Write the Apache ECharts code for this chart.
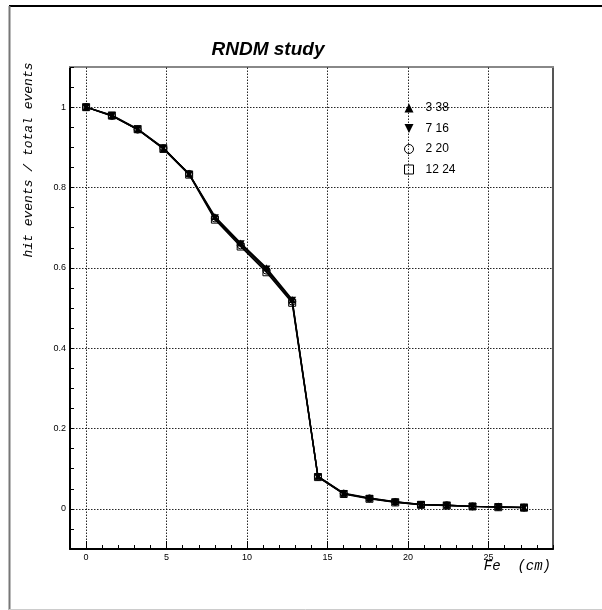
<!DOCTYPE html>
<html>
<head>
<meta charset="utf-8">
<script src="https://cdn.jsdelivr.net/npm/echarts@6/dist/echarts.min.js"></script>
<style>html,body{margin:0;padding:0;background:#fff}#c{width:602px;height:610px}</style>
</head>
<body>
<div id="c"></div>
<script>
var xValues = [0, 1.6, 3.2, 4.8, 6.4, 8.0, 9.6, 11.2, 12.8, 14.4, 16.0, 17.6, 19.2, 20.8, 22.4, 24.0, 25.6, 27.2];
var seriesNames = ['3 38', '7 16', '2 20', '12 24'];
var s338  = [1.000, 0.979, 0.945, 0.897, 0.834, 0.728, 0.662, 0.600, 0.521, 0.081, 0.039, 0.027, 0.018, 0.011, 0.009, 0.006, 0.005, 0.003];
var s716  = [1.000, 0.980, 0.946, 0.899, 0.833, 0.725, 0.660, 0.597, 0.519, 0.080, 0.038, 0.026, 0.017, 0.011, 0.009, 0.006, 0.005, 0.004];
var s220  = [1.000, 0.978, 0.944, 0.898, 0.834, 0.723, 0.656, 0.593, 0.516, 0.080, 0.038, 0.026, 0.017, 0.010, 0.009, 0.006, 0.005, 0.003];
var s1224 = [1.000, 0.979, 0.945, 0.896, 0.832, 0.720, 0.653, 0.589, 0.513, 0.079, 0.037, 0.025, 0.016, 0.010, 0.008, 0.006, 0.004, 0.003];
var xMajorTicks = [0, 5, 10, 15, 20, 25];
var xMinorTicks = [-1,0,1,2,3,4,5,6,7,8,9,10,11,12,13,14,15,16,17,18,19,20,21,22,23,24,25,26,27,28,29];
var yLabelTicks = [0, 0.2, 0.4, 0.6, 0.8, 1.0];
var yMinorTicks = [-0.1,-0.05,0,0.05,0.1,0.15,0.2,0.25,0.3,0.35,0.4,0.45,0.5,0.55,0.6,0.65,0.7,0.75,0.8,0.85,0.9,0.95,1.0,1.05,1.1];

function pairs(ys){ return xValues.map(function(x,i){ return [x, ys[i]]; }); }

var downTri = 'path://M0,0 L10,0 L5,10 Z';
var symbols = ['triangle', downTri, 'circle', 'rect'];
var fills = ['#000', '#000', 'none', 'none'];
var allData = [s338, s716, s220, s1224];

var gridLineData = [];
xMajorTicks.forEach(function(v){ gridLineData.push({xAxis: v}); });
yLabelTicks.forEach(function(v){ gridLineData.push({yAxis: v}); });

var series = allData.map(function(d, k){
  var s = {
    name: seriesNames[k],
    type: 'line',
    data: pairs(d),
    symbol: symbols[k],
    symbolSize: k === 1 ? [8, 7] : 7,
    showAllSymbol: true,
    lineStyle: {color: '#000', width: 1.4},
    itemStyle: {color: fills[k] === 'none' ? 'rgba(0,0,0,0)' : '#000', borderColor: '#000', borderWidth: fills[k] === 'none' ? 1 : 0},
    emphasis: {disabled: true},
    animation: false,
    z: 3
  };
  if (k === 0) {
    s.markLine = {
      silent: true, symbol: 'none', animation: false,
      label: {show: false},
      lineStyle: {color: '#000', type: [1.5, 1.5], width: 1, opacity: 0.85},
      data: gridLineData
    };
  }
  return s;
});

var chart = echarts.init(document.getElementById('c'), null, {renderer: 'canvas'});
chart.setOption({
  backgroundColor: '#fff',
  animation: false,
  grid: {left: 70, top: 67, right: 49, bottom: 61, show: false},
  xAxis: [{
    type: 'value', min: -1, max: 29,
    axisLine: {show: true, onZero: false, lineStyle: {color: '#000', width: 2}},
    axisTick: {show: true, inside: true, length: 4, customValues: xMinorTicks, lineStyle: {color: '#000', width: 1}},
    axisLabel: {customValues: xMajorTicks, color: '#000', fontSize: 9, fontFamily: 'Liberation Sans', margin: 4},
    splitLine: {show: false}
  }, {
    type: 'value', min: -1, max: 29, position: 'bottom',
    axisLine: {show: false, onZero: false},
    axisTick: {show: true, inside: true, length: 8, customValues: xMajorTicks, lineStyle: {color: '#000', width: 1}},
    axisLabel: {show: false},
    splitLine: {show: false}
  }, {
    type: 'value', min: -1, max: 29, position: 'top',
    axisLine: {show: true, onZero: false, lineStyle: {color: '#888', width: 2}},
    axisTick: {show: false}, axisLabel: {show: false}, splitLine: {show: false}
  }],
  yAxis: [{
    type: 'value', min: -0.1, max: 1.1,
    axisLine: {show: true, onZero: false, lineStyle: {color: '#000', width: 2}},
    axisTick: {show: true, inside: true, length: 4, customValues: yMinorTicks, lineStyle: {color: '#000', width: 1}},
    axisLabel: {customValues: yLabelTicks, color: '#000', fontSize: 9, fontFamily: 'Liberation Sans', margin: 4,
      formatter: function(v){ return String(Math.round(v * 10) / 10); }},
    splitLine: {show: false}
  }, {
    type: 'value', min: -0.1, max: 1.1, position: 'right',
    axisLine: {show: true, onZero: false, lineStyle: {color: '#555', width: 2}},
    axisTick: {show: false}, axisLabel: {show: false}, splitLine: {show: false}
  }],
  legend: {
    orient: 'vertical', left: 404, top: 101, padding: 0,
    itemWidth: 9, itemHeight: 9, itemGap: 6.5,
    data: seriesNames.map(function(n, k){
      return {name: n, icon: symbols[k],
        itemStyle: {color: fills[k] === 'none' ? '#fff' : '#000', borderColor: '#000', borderWidth: fills[k] === 'none' ? 1 : 0}};
    }),
    textStyle: {color: '#000', fontSize: 12, fontFamily: 'Liberation Sans', lineHeight: 14, padding: [0, 0, 0, 7]},
    selectedMode: false
  },
  title: {
    text: 'RNDM study', left: 268, top: 40, textAlign: 'center', padding: 0,
    textStyle: {fontSize: 19, fontWeight: 'bold', fontStyle: 'italic', fontFamily: 'Liberation Sans', color: '#000'}
  },
  graphic: [
    {type: 'line', shape: {x1: 9, y1: 6, x2: 602, y2: 6}, style: {stroke: '#000', lineWidth: 2}, silent: true},
    {type: 'line', shape: {x1: 9.5, y1: 6, x2: 9.5, y2: 610}, style: {stroke: '#777', lineWidth: 2}, silent: true},
    {type: 'line', shape: {x1: 9, y1: 609.5, x2: 602, y2: 609.5}, style: {stroke: '#ccc', lineWidth: 1}, silent: true},
    {type: 'text', x: 29, y: 160, rotation: Math.PI / 2,
      style: {text: 'hit events / total events', align: 'center', verticalAlign: 'middle',
        font: 'italic 13px "Liberation Mono"', fill: '#000'}, silent: true},
    {type: 'text', x: 551, y: 566,
      style: {text: 'Fe  (cm)', align: 'right', verticalAlign: 'middle',
        font: 'italic 14px "Liberation Mono"', fill: '#000'}, silent: true}
  ],
  series: series
});
</script>
</body>
</html>
